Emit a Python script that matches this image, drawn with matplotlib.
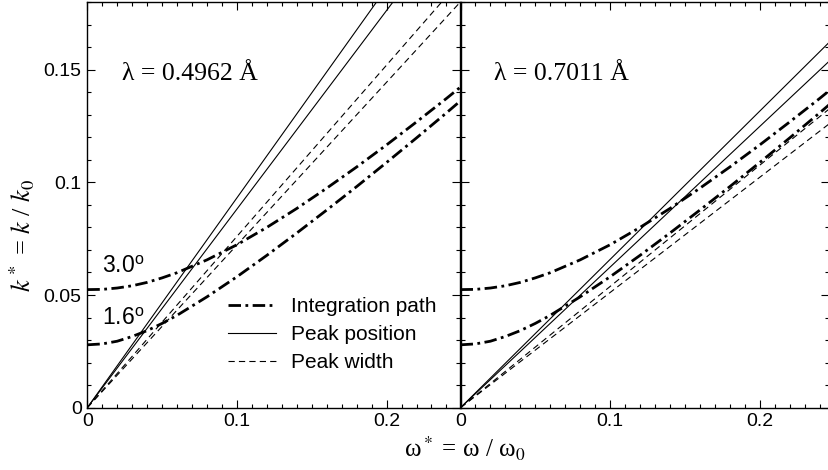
import matplotlib
matplotlib.use("Agg")
import matplotlib.pyplot as plt
from matplotlib.ticker import MultipleLocator

plt.rcParams["font.family"] = ["Liberation Sans", "DejaVu Sans"]
plt.rcParams["mathtext.fontset"] = "stix"
plt.rcParams["lines.scale_dashes"] = False

# integration paths (same for both wavelengths), scattering angles 3.0 and 1.6 deg
omega = [0.0, 0.01, 0.02, 0.03, 0.04, 0.05, 0.06, 0.08, 0.10, 0.12, 0.14,
         0.16, 0.18, 0.20, 0.22, 0.24, 0.25]
k_int_30 = [0.0524, 0.0525, 0.0531, 0.0541, 0.0556, 0.0576, 0.0599, 0.0656,
            0.0723, 0.0800, 0.0884, 0.0974, 0.1068, 0.1166, 0.1268, 0.1372, 0.1426]
k_int_16 = [0.0279, 0.0283, 0.0295, 0.0316, 0.0342, 0.0374, 0.0410, 0.0492,
            0.0581, 0.0676, 0.0775, 0.0877, 0.0981, 0.1088, 0.1197, 0.1308, 0.1365]
angle_labels = ["3.0", "1.6"]

# straight peak lines through the origin: k* at omega* = 0 and 0.25
omega_line = [0.0, 0.25]
wavelengths = ["0.4962", "0.7011"]
peak_pos_end = [[0.2328, 0.2203], [0.1645, 0.1560]]
peak_width_end = [[0.1900, 0.1805], [0.1345, 0.1278]]

W, H = 829, 470
x0, xm, x1 = 87.3, 460.5, 828.5
ytop, ybot = 2.0, 407.7
xmax_l = 0.2494
xmax_r = xmax_l * (x1 - xm) / (xm - x0)

fig = plt.figure(figsize=(W / 100, H / 100), dpi=100)
ax_l = fig.add_axes([x0 / W, 1 - ybot / H, (xm - x0) / W, (ybot - ytop) / H])
ax_r = fig.add_axes([xm / W, 1 - ybot / H, (x1 - xm) / W, (ybot - ytop) / H])

DASHDOT = (0, (9, 3.2, 2, 3.2))
DASHED = (0, (4.5, 3))
serif = ["Liberation Serif", "DejaVu Serif"]

for i, (ax, lam) in enumerate(zip([ax_l, ax_r], wavelengths)):
    for j in range(2):
        ax.plot(omega_line, [0, peak_pos_end[i][j]], color="black", lw=0.8,
                label="Peak position" if j == 0 else None)
    for j in range(2):
        ax.plot(omega_line, [0, peak_width_end[i][j]], color="black", lw=0.8,
                ls=DASHED, label="Peak width" if j == 0 else None)
    ax.plot(omega, k_int_30, color="black", lw=2.0, ls=DASHDOT, label="Integration path")
    ax.plot(omega, k_int_16, color="black", lw=2.0, ls=DASHDOT)

    ax.set_xlim(0, xmax_l if i == 0 else xmax_r)
    ax.set_ylim(0, 0.18)
    ax.xaxis.set_major_locator(MultipleLocator(0.1))
    ax.xaxis.set_minor_locator(MultipleLocator(0.01))
    ax.yaxis.set_major_locator(MultipleLocator(0.05))
    ax.yaxis.set_minor_locator(MultipleLocator(0.01))
    ax.set_xticks([0, 0.1, 0.2], ["0", "0.1", "0.2"])
    ax.set_yticks([0, 0.05, 0.1, 0.15], ["0", "0.05", "0.1", "0.15"])
    ax.tick_params(which="both", direction="in", top=True, right=True,
                   width=0.8, labelsize=14)
    ax.tick_params(which="major", length=6, pad=4)
    ax.tick_params(which="minor", length=3)
    for sp in ax.spines.values():
        sp.set_linewidth(1.0)

    ax.text(0.092, 0.808, f"λ = {lam} Å", transform=ax.transAxes,
            family=serif, fontsize=18.5, va="baseline")

ax_r.tick_params(labelleft=False)

ax_l.text(0.0098, 0.0598, angle_labels[0] + r"$^\mathregular{o}$", fontsize=16.5, va="baseline")
ax_l.text(0.0098, 0.0367, angle_labels[1] + r"$^\mathregular{o}$", fontsize=16.5, va="baseline")

handles, labels = ax_l.get_legend_handles_labels()
order = [labels.index(n) for n in ["Integration path", "Peak position", "Peak width"]]
ax_l.legend([handles[o] for o in order], [labels[o] for o in order],
            loc="upper left", bbox_to_anchor=(0.378, 0.272), frameon=False,
            fontsize=15, handlelength=2.3, handletextpad=0.72, labelspacing=0.42,
            borderpad=0, borderaxespad=0)

fig.text(22 / W, 1 - 235 / H, r"$k^*$ = $k$ / $k_0$", rotation=90,
         ha="center", va="center", family=serif, fontsize=19)
fig.text(465 / W, 1 - 458 / H, r"ω$^*$ = ω / ω$_0$", ha="center", va="baseline",
         family=serif, fontsize=18)

fig.savefig("out.png", dpi=100)
